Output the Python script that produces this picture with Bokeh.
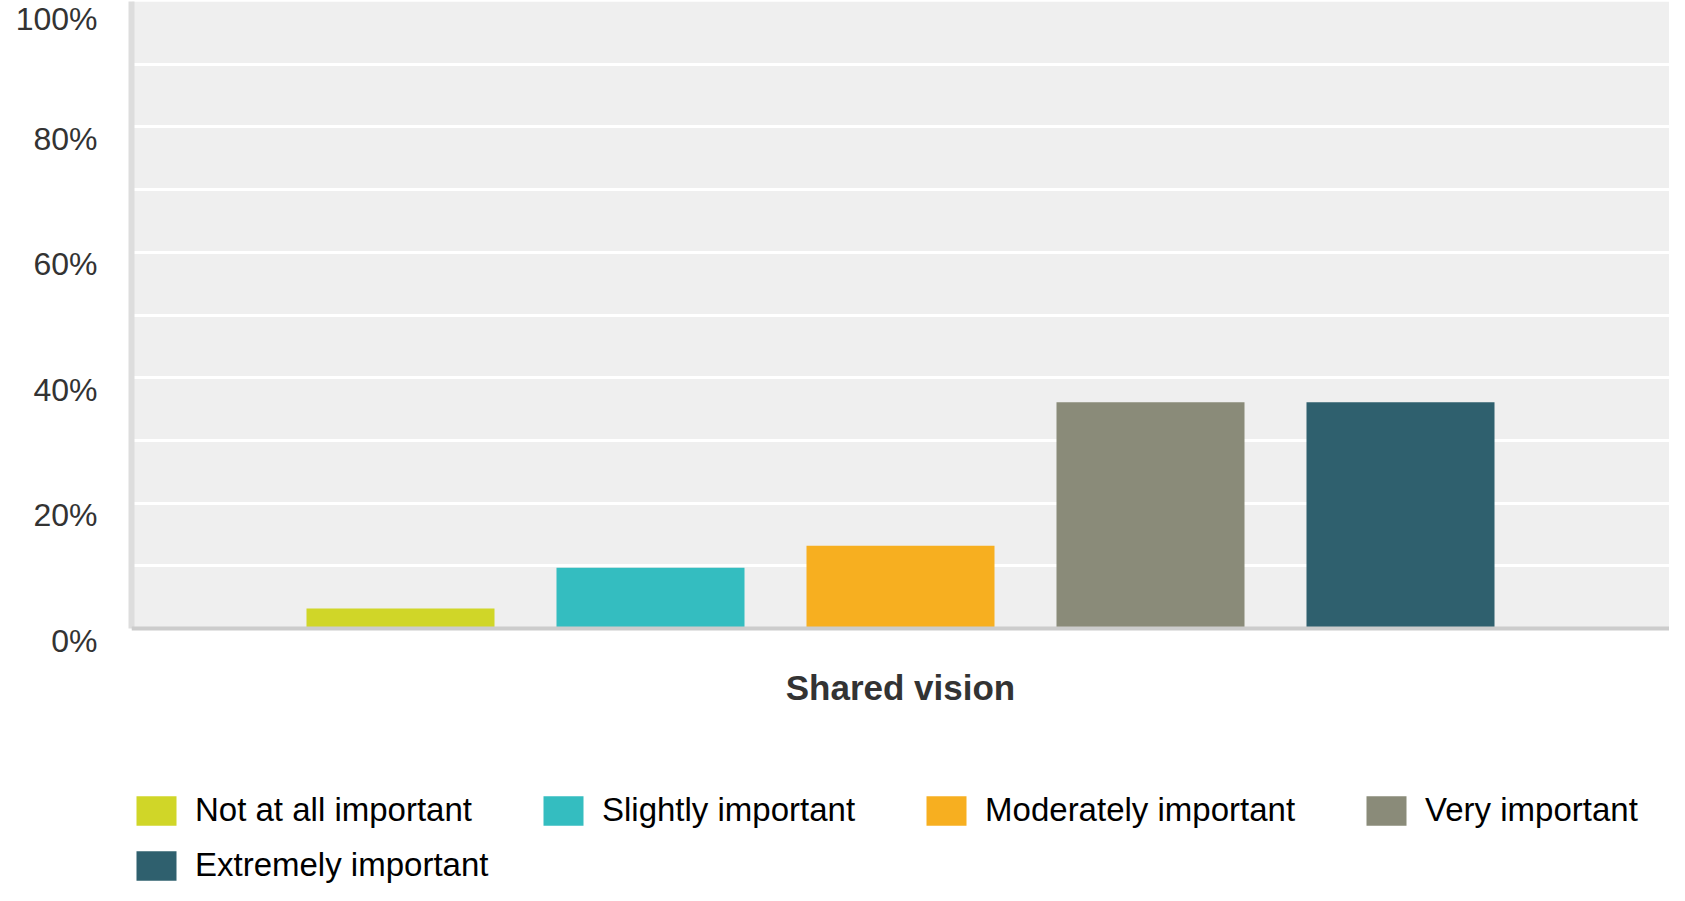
from bokeh.plotting import figure
from bokeh.layouts import column
from bokeh.models import (Range1d, FactorRange, FixedTicker, PrintfTickFormatter,
                          Legend, LegendItem, ColumnDataSource, LinearAxis,
                          BoxAnnotation, Span)
from bokeh.embed import file_html
from bokeh.resources import INLINE

# ---- data ----
categories = ["Not at all important", "Slightly important", "Moderately important",
              "Very important", "Extremely important"]
values = [3.2, 9.7, 13.2, 36.1, 36.1]
colors = ["#D0D628", "#34BDC0", "#F7AF20", "#8A8B79", "#2F606E"]
group_label = "Shared vision"
y_ticks = [0, 20, 40, 60, 80, 100]
grid_ticks = [0, 10, 20, 30, 40, 50, 60, 70, 80, 90, 100]

W = 1669
MAIN_H = 718
LEG_H = 167
PX_PER_100 = 627
DROP_PX = 12
d = DROP_PX / PX_PER_100 * 100   # tick labels hang just below their gridlines
FRAME_H = PX_PER_100 + DROP_PX

p = figure(width=W, height=MAIN_H, output_backend="svg", toolbar_location=None,
           x_range=FactorRange(*categories, range_padding=0.2304),
           y_range=Range1d(-d, 100),
           x_axis_location=None, y_axis_location=None,
           min_border_left=131, min_border_right=0, min_border_top=1,
           min_border_bottom=MAIN_H - 1 - FRAME_H)
p.outline_line_color = None
p.background_fill_color = "white"
p.border_fill_color = "white"
p.extra_y_ranges = {"lab": Range1d(0, 100 + d)}

src = ColumnDataSource(dict(cat=categories, val=values, col=colors))
r = p.vbar(x="cat", top="val", width=0.752, color="col", source=src, line_color=None)

# grid
p.xgrid.grid_line_color = None
p.ygrid.ticker = FixedTicker(ticks=grid_ticks)
p.ygrid.grid_line_color = "white"
p.ygrid.grid_line_width = 3

# grey plotting area above the baseline (painted before the grid)
area = BoxAnnotation(bottom=0, fill_color="#EFEFEF", fill_alpha=1,
                     line_color=None, level="underlay")
p.center = [area] + list(p.center)
# baseline
p.add_layout(Span(location=0, dimension="width", line_color="#CCCCCC", line_width=4))

# y axis line (no labels), only between 0 and 100
yline = LinearAxis(ticker=FixedTicker(ticks=[]), axis_line_color="#DDDDDD",
                   axis_line_width=6, major_tick_line_color=None,
                   minor_tick_line_color=None, major_label_standoff=0)
yline.bounds = (0, 100)
p.add_layout(yline, "left")

# y tick labels
ylab = LinearAxis(y_range_name="lab", ticker=FixedTicker(ticks=y_ticks),
                  formatter=PrintfTickFormatter(format="%d%%"),
                  axis_line_color=None, major_tick_line_color=None,
                  minor_tick_line_color=None, major_tick_out=0, major_tick_in=0,
                  major_label_standoff=34,
                  major_label_text_font="Liberation Sans",
                  major_label_text_font_size="32px",
                  major_label_text_color="#333333")
p.add_layout(ylab, "left")

# x axis label
xa = LinearAxis(ticker=FixedTicker(ticks=[]),
                axis_line_color=None,
                major_tick_line_color=None, minor_tick_line_color=None,
                major_tick_out=0, major_tick_in=0, major_label_standoff=0,
                axis_label=group_label,
                axis_label_text_font="Liberation Sans",
                axis_label_text_font_style="bold",
                axis_label_text_font_size="35px",
                axis_label_text_color="#333333",
                axis_label_standoff=27)
p.add_layout(xa, "below")

# ---- legend strip: swatches take the bar colours from the same data ----
lf = figure(width=W, height=LEG_H, output_backend="svg", toolbar_location=None,
            x_range=FactorRange(*categories), y_range=Range1d(1000, 1001),
            x_axis_location=None, y_axis_location=None,
            min_border_left=115, min_border_right=0,
            min_border_top=0, min_border_bottom=0)
lf.outline_line_color = None
lf.grid.visible = False
lf.background_fill_color = "white"
lf.border_fill_color = "white"
rr = lf.vbar(x="cat", top="val", width=0.01, color="col", source=src, line_color=None)

def make_legend(idxs, loc):
    items = [LegendItem(label=categories[i], renderers=[rr], index=i) for i in idxs]
    return Legend(items=items, location=loc, orientation="horizontal",
                  glyph_width=50, glyph_height=37, label_height=37,
                  label_standoff=14, spacing=66, padding=0, margin=0,
                  border_line_color=None, background_fill_alpha=0,
                  label_text_font="Liberation Sans", label_text_font_size="33px",
                  label_text_color="#000000", label_text_baseline="middle")

lf.add_layout(make_legend([0, 1, 2, 3], (0, 56)))
lf.add_layout(make_legend([4], (0, 1)))

open("out.html", "w").write(file_html(column(p, lf, spacing=0), INLINE))
